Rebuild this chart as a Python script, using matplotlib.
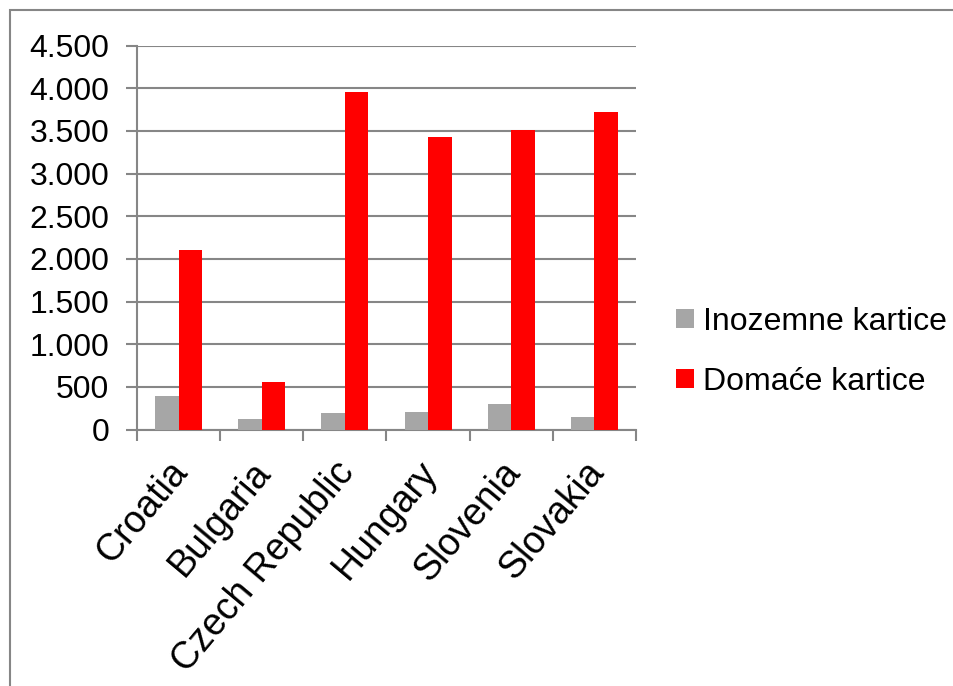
import matplotlib.pyplot as plt
import numpy as np
import matplotlib.transforms as mtransforms
from matplotlib.patches import Rectangle
from matplotlib.ticker import FuncFormatter

plt.rcParams['font.family'] = ['Liberation Sans', 'DejaVu Sans']

countries = ['Croatia', 'Bulgaria', 'Czech Republic', 'Hungary', 'Slovenia', 'Slovakia']
inozemne = [390, 120, 195, 205, 300, 145]
domace = [2100, 555, 3955, 3430, 3510, 3720]
labels = ['Inozemne kartice', 'Domaće kartice']

fig = plt.figure(figsize=(9.54, 6.86), dpi=100)
ax = fig.add_axes([0.1436, 0.3739, 0.523, 0.5595])

x = np.arange(len(countries))
w = 0.283
ax.bar(x - w/2, inozemne, w, color='#A6A6A6', label=labels[0], zorder=3)
ax.bar(x + w/2, domace, w, color='#FF0000', label=labels[1], zorder=3)

ax.set_xlim(-0.5, len(countries) - 0.5)
ax.set_ylim(0, 4500)
ax.set_yticks(np.arange(0, 4501, 500))
ax.yaxis.set_major_formatter(FuncFormatter(lambda v, p: f'{int(v):,}'.replace(',', '.')))
ax.grid(axis='y', color='#868686', lw=1.5, zorder=1)

ax.set_xticks(x)
ax.set_xticklabels(countries, rotation=50, ha='right', rotation_mode='anchor', fontsize=27)
ax.set_xticks(np.arange(-0.5, len(countries)), minor=True)
ax.tick_params(axis='x', which='major', length=0, pad=18)
ax.tick_params(axis='x', which='minor', length=8, width=1.5, color='#868686', direction='out')
ax.tick_params(axis='y', length=8, width=1.5, color='#868686', labelsize=23, pad=12)

# nudge rotated labels left, as in the original
shift = mtransforms.ScaledTranslation(-11/100, 0, fig.dpi_scale_trans)
for lbl in ax.get_xticklabels():
    lbl.set_transform(lbl.get_transform() + shift)

for s in ['top', 'right']:
    ax.spines[s].set_visible(False)
for s in ['left', 'bottom']:
    ax.spines[s].set_color('#868686')
    ax.spines[s].set_linewidth(1.5)

fig.legend(loc='center left', bbox_to_anchor=(0.6955, 0.487), frameon=False,
           fontsize=23, handlelength=0.55, handleheight=0.55, handletextpad=0.3,
           labelspacing=0.95, borderaxespad=0)

fig.patches.append(Rectangle((10/954, -0.1), 1.2, 1 - 10/686 + 0.1, transform=fig.transFigure,
                             fill=False, edgecolor='#868686', lw=1.5))

fig.savefig('out.png', dpi=100)
